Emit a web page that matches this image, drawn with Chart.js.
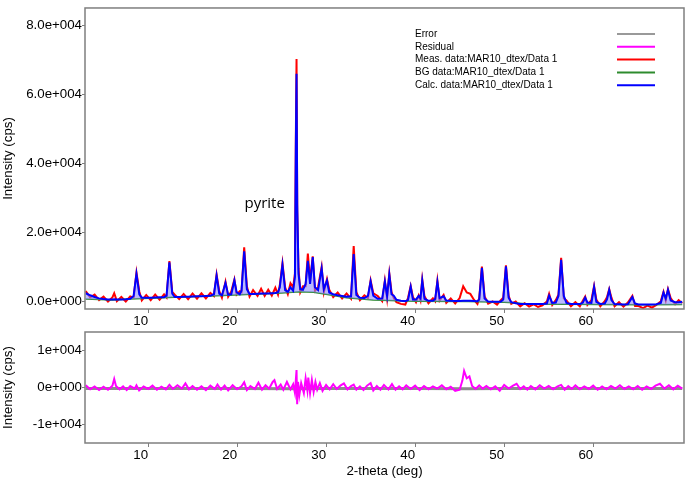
<!DOCTYPE html>
<html>
<head>
<meta charset="utf-8">
<script src="https://cdn.jsdelivr.net/npm/chart.js@4.4.1/dist/chart.umd.min.js"></script>
<style>
  body { margin: 0; background: #fff; }
  #topChart { position: absolute; left: 0; top: 0; }
  #bottomChart { position: absolute; left: 0; top: 320px; }
</style>
</head>
<body>
<canvas id="topChart" width="685" height="325"></canvas>
<canvas id="bottomChart" width="685" height="160"></canvas>
<script>
// 2-theta positions shared by measured and calculated patterns
const twoTheta = [
  3.0, 3.5, 4.0, 4.5, 5.0, 5.5, 6.0, 6.2, 6.5, 7.0, 7.5, 8.0, 8.38, 8.7, 9.02, 9.3, 9.8, 10.3, 10.8, 11.3,
  11.8, 12.08, 12.4, 12.72, 13.0, 13.5, 14.0, 14.5, 15.0, 15.5, 16.0, 16.5, 17.0, 17.4, 17.7, 18.0, 18.3, 18.7, 19.0, 19.35,
  19.7, 19.95, 20.3, 20.5, 20.8, 21.1, 21.4, 21.8, 22.3, 22.7, 23.1, 23.5, 23.9, 24.3, 24.6, 24.8, 25.1, 25.4, 25.7, 26.0,
  26.3, 26.5, 26.6, 26.68, 26.76, 26.9, 27.1, 27.4, 27.7, 27.95, 28.2, 28.5, 28.75, 29.1, 29.5, 29.75, 30.1, 30.35, 30.8, 31.3,
  31.8, 32.3, 32.8, 33.1, 33.4, 33.8, 34.3, 34.7, 35.0, 35.3, 35.8, 36.3, 36.6, 36.85, 37.1, 37.35, 37.6, 37.9, 38.4, 38.9,
  39.2, 39.5, 39.75, 40.1, 40.4, 40.6, 40.8, 41.05, 41.5, 42.0, 42.25, 42.5, 42.75, 43.2, 43.5, 44.0, 44.5, 45.0, 45.4, 45.8,
  46.2, 46.6, 47.0, 47.2, 47.5, 47.8, 48.2, 48.7, 49.2, 49.6, 49.9, 50.2, 50.5, 50.8, 51.3, 51.8, 52.3, 52.8, 53.3, 53.8,
  54.3, 54.8, 55.05, 55.4, 55.8, 56.1, 56.4, 56.7, 57.0, 57.5, 58.0, 58.5, 58.85, 59.1, 59.35, 59.8, 60.1, 60.35, 60.8, 61.3,
  61.55, 61.8, 62.05, 62.4, 62.9, 63.4, 63.9, 64.4, 64.7, 65.1, 65.6, 66.1, 66.6, 67.1, 67.6, 67.9, 68.15, 68.4, 68.7, 69.2,
  69.6, 70.0
];
const calculated = [
  2300, 1700, 1200, 800, 600, 500, 500, 550, 500, 500, 550, 700, 1500, 7900, 2000, 1000, 1000, 1000, 1050, 1100,
  1150, 1600, 11300, 2200, 1200, 1200, 1250, 1300, 1350, 1400, 1450, 1500, 1550, 2000, 7400, 2200, 1700, 5300, 1900, 2000,
  6000, 2600, 2000, 3000, 14500, 3500, 2100, 2100, 2150, 2200, 2200, 2250, 2300, 2350, 2600, 4000, 10500, 3200, 2700, 4000,
  3000, 7000, 44000, 66000, 28000, 8000, 3500, 3300, 5000, 11700, 5000, 12800, 4000, 3200, 9500, 3500, 6000, 2500, 2000, 1700,
  1500, 1300, 1400, 13700, 1800, 1000, 900, 1500, 5700, 1600, 700, 800, 5700, 1500, 7800, 2000, 1600, 400, 100, 0,
  300, 4200, 500, 500, 1500, 800, 6000, 700, 100, 100, 600, 5600, 900, 1400, 200, 100, 50, 50, 100, 100,
  100, 50, 0, 500, 9700, 800, -100, -150, -200, -200, 500, 10100, 1000, -300, -600, -800, -850, -850, -850, -850,
  -850, -700, 1600, -500, -400, 1500, 12000, 1500, -500, -800, -850, -850, -400, 1000, -400, -500, 4100, -200, -800, -700,
  500, 3300, 300, -850, -900, -950, -900, 1200, -700, -950, -950, -950, -950, -900, -500, 2500, 800, 3300, 200, -300,
  -300, -200
];
const measured = [
  2900, 1100, 1900, 300, 1300, -100, 1100, 2300, 0, 1200, -100, 1400, 1000, 8300, 2800, 200, 1800, 300, 1900, 400,
  2000, 1100, 11600, 2700, 1900, 600, 2100, 600, 2200, 700, 2300, 800, 2400, 1500, 7700, 2900, 1000, 5600, 1300, 2800,
  6300, 1900, 2900, 2600, 15600, 4300, 1300, 3200, 1500, 3600, 1500, 3300, 1600, 3900, 1900, 4600, 11000, 4000, 2000, 5200,
  4000, 8000, 47000, 70300, 26000, 9500, 2600, 4300, 4300, 13800, 5800, 13000, 3000, 4100, 9900, 2600, 6400, 3300, 1200, 2500,
  800, 2200, 700, 16000, 2600, 300, 1700, 900, 6000, 2300, 1500, 0, 5900, 800, 8000, 2600, 900, -300, -800, -1000,
  900, 4400, 1200, -300, 1700, 200, 6300, 1400, -600, 800, 0, 5900, 200, 1800, -500, 800, -700, 900, 4300, 2500,
  2100, 400, -800, 900, 10000, 1400, -700, -100, -1000, 200, 1000, 10400, 1600, -800, -100, -1500, -600, -1600, -900, -1700,
  -1200, -100, 2100, -1100, 300, 1900, 12600, 800, 200, -1500, -300, -1500, 200, 1300, -1100, 300, 4400, 500, -1500, 0,
  1100, 3500, 1000, -1500, -300, -1600, -400, 1500, -1400, -1400, -2000, -1300, -1900, -1100, 0, 2700, 200, 3500, 900, -900,
  300, -600
];

// background curve
const bgTheta = [3, 6, 8, 13, 17, 21, 25, 27, 28.6, 30.5, 32.3, 35.3, 40, 46, 50, 51, 52, 53, 61, 66, 70];
const background = [600, 300, 600, 1100, 1500, 1900, 2400, 2700, 2600, 1800, 1000, 300, 0, -100, -300, -500, -700, -850, -950, -1050, -950];

// residual (lower panel)
const resTheta = [
  3.0, 3.5, 4.0, 4.5, 5.0, 5.5, 6.0, 6.2, 6.4, 6.8, 7.2, 7.6, 8.0, 8.5, 8.7, 9.0, 9.5, 10.0, 10.5, 11.0,
  11.5, 12.0, 12.4, 12.8, 13.3, 13.8, 14.2, 14.6, 15.0, 15.5, 16.0, 16.5, 17.0, 17.5, 17.8, 18.2, 18.6, 19.0, 19.5, 20.0,
  20.5, 20.8, 21.1, 21.5, 22.0, 22.4, 22.8, 23.2, 23.6, 24.0, 24.2, 24.5, 24.9, 25.2, 25.6, 26.0, 26.3, 26.5, 26.6, 26.68,
  26.75, 26.85, 27.0, 27.2, 27.5, 27.7, 27.9, 28.0, 28.2, 28.4, 28.6, 28.8, 29.0, 29.3, 29.6, 30.0, 30.4, 30.8, 31.2, 31.6,
  32.0, 32.4, 32.8, 33.1, 33.4, 33.8, 34.2, 34.6, 35.0, 35.3, 35.7, 36.1, 36.5, 37.0, 37.4, 37.8, 38.2, 38.6, 39.0, 39.5,
  40.0, 40.5, 41.0, 41.5, 42.0, 42.5, 43.0, 43.5, 44.0, 44.5, 45.0, 45.3, 45.5, 45.8, 46.1, 46.4, 46.8, 47.2, 47.6, 48.0,
  48.5, 49.0, 49.5, 50.0, 50.5, 51.0, 51.4, 51.8, 52.2, 52.6, 53.0, 53.5, 54.0, 54.5, 55.0, 55.5, 56.0, 56.4, 56.8, 57.2,
  57.6, 58.0, 58.5, 59.0, 59.5, 60.0, 60.5, 61.0, 61.5, 62.0, 62.5, 63.0, 63.5, 64.0, 64.5, 65.0, 65.5, 66.0, 66.5, 67.0,
  67.5, 68.0, 68.5, 69.0, 69.5, 70.0
];
const residual = [
  600, -500, 300, -700, 200, -600, 500, 2300, 400, -500, 300, -700, 400, -300, 600, -800, 300, -400, 500, -600,
  200, -500, 700, -400, 600, -300, 1100, -500, 400, -600, 300, -700, 500, -400, 800, -600, 500, -800, 600, -500,
  300, 1400, -700, 400, -400, 1300, -600, 600, -300, 1500, 2000, -400, 800, -600, 1500, -500, 900, -1500, 2000, 4700,
  -4500, 1500, -2000, 1200, -1500, 2500, -800, 2700, -1500, 2000, -1200, 1500, -600, 1200, -900, 700, -500, 900, -400, 500,
  1100, -500, 400, 800, -600, 300, -700, 500, 1200, -800, 400, -600, 700, -500, 900, -600, 300, -500, 600, -400,
  500, -700, 400, -500, 300, -300, 600, -500, 200, -900, -600, 1800, 4500, 2500, 3000, 400, -400, 600, -300, 400,
  -500, 300, -900, 700, -300, 500, 1000, -400, 300, -600, 400, -500, 600, -300, 400, -500, 300, 700, -600, 400,
  -400, 600, -500, 300, -400, 500, -600, 300, -500, 400, -300, 600, -400, 300, -500, 400, -600, 300, -400, 500,
  1000, -300, 600, -500, 500, -300
];

// estimated error band
const errTheta = [3, 10, 20, 27, 30, 40, 46, 50, 60, 70];
const errorBand = [-250, -300, -250, -350, -300, -250, -350, -300, -250, -300];

const xTicks = [10, 20, 30, 40, 50, 60];
const topTickValues = [0, 20000, 40000, 60000, 80000];
const topTickLabels = ['0.0e+000', '2.0e+004', '4.0e+004', '6.0e+004', '8.0e+004'];
const bottomTickValues = [-10000, 0, 10000];
const bottomTickLabels = ['-1e+004', '0e+000', '1e+004'];

const legendNames = ['Error', 'Residual', 'Meas. data:MAR10_dtex/Data 1', 'BG data:MAR10_dtex/Data 1', 'Calc. data:MAR10_dtex/Data 1'];
const legendColors = ['#999999', '#ff00ff', '#ff0000', '#2e8b2e', '#0000ff'];

const toPoints = (xs, ys) => xs.map((x, i) => ({ x: x, y: ys[i] }));

const axisFont = { family: 'Liberation Sans', size: 13.3 };
Chart.defaults.color = '#000';
Chart.defaults.font.family = 'Liberation Sans';

const framePlugin = {
  id: 'frame',
  afterDatasetsDraw(chart) {
    const { ctx, chartArea: a } = chart;
    ctx.save();
    ctx.strokeStyle = '#7f7f7f';
    ctx.lineWidth = 1.5;
    ctx.strokeRect(a.left, a.top, a.right - a.left, a.bottom - a.top);
    ctx.restore();
  }
};

const legendPlugin = {
  id: 'customLegend',
  afterDraw(chart) {
    const ctx = chart.ctx;
    ctx.save();
    ctx.font = '10px "Liberation Sans"';
    ctx.textBaseline = 'middle';
    ctx.fillStyle = '#000';
    legendNames.forEach((name, i) => {
      const y = 34 + i * 12.8;
      ctx.fillText(name, 415, y);
      ctx.strokeStyle = legendColors[i];
      ctx.lineWidth = 2;
      ctx.beginPath();
      ctx.moveTo(617, y);
      ctx.lineTo(655, y);
      ctx.stroke();
    });
    ctx.restore();
  }
};

const labelPlugin = {
  id: 'pyriteLabel',
  afterDraw(chart) {
    const ctx = chart.ctx;
    const x = chart.scales.x.getPixelForValue(23.1);
    const y = chart.scales.y.getPixelForValue(28200);
    ctx.save();
    ctx.font = '15px "Open Sans"';
    ctx.fillStyle = '#000';
    ctx.textAlign = 'center';
    ctx.textBaseline = 'middle';
    ctx.fillText('pyrite', x, y);
    ctx.restore();
  }
};

function xAxis(height, title) {
  return {
    type: 'linear',
    min: 2.92,
    max: 70.2,
    afterBuildTicks: s => { s.ticks = xTicks.map(v => ({ value: v })); },
    afterFit: s => { s.height = height; },
    grid: { drawOnChartArea: false, tickLength: 4, color: '#7f7f7f' },
    border: { display: false },
    ticks: { align: 'end', padding: 0, font: axisFont, color: '#000', maxRotation: 0 },
    title: title ? { display: true, text: title, font: axisFont, color: '#000', padding: { top: 0, bottom: 1 } } : { display: false }
  };
}

function yAxis(min, max, values, labels) {
  return {
    min: min,
    max: max,
    afterBuildTicks: s => { s.ticks = values.map(v => ({ value: v })); },
    afterFit: s => { s.width = 85; },
    grid: { drawOnChartArea: false, tickLength: 3, color: '#7f7f7f' },
    border: { display: false },
    ticks: { padding: 0, font: axisFont, color: '#000', callback: v => labels[values.indexOf(v)] },
    title: { display: true, text: 'Intensity (cps)', font: axisFont, color: '#000', padding: { top: 0, bottom: 0 } }
  };
}

new Chart(document.getElementById('topChart'), {
  type: 'line',
  data: {
    datasets: [
      {
        label: legendNames[4],
        data: toPoints(twoTheta, calculated),
        borderColor: '#0000ff',
        borderWidth: 2,
        backgroundColor: 'rgba(140,140,255,0.6)',
        fill: 1,
        order: 0
      },
      {
        label: legendNames[3],
        data: toPoints(bgTheta, background),
        borderColor: '#2e8b2e',
        borderWidth: 1.5,
        fill: false,
        order: 1
      },
      {
        label: legendNames[2],
        data: toPoints(twoTheta, measured),
        borderColor: '#ff0000',
        borderWidth: 2,
        fill: false,
        order: 2
      }
    ]
  },
  options: {
    responsive: false,
    animation: false,
    devicePixelRatio: 1,
    elements: { point: { radius: 0 }, line: { tension: 0 } },
    layout: { padding: { top: 2, right: 1, left: 0, bottom: 0 } },
    plugins: { legend: { display: false }, tooltip: { enabled: false } },
    scales: {
      x: xAxis(16, null),
      y: yAxis(-2280, 85120, topTickValues, topTickLabels)
    }
  },
  plugins: [framePlugin, legendPlugin, labelPlugin]
});

new Chart(document.getElementById('bottomChart'), {
  type: 'line',
  data: {
    datasets: [
      {
        label: legendNames[1],
        data: toPoints(resTheta, residual),
        borderColor: '#ff00ff',
        borderWidth: 2,
        fill: false,
        order: 0
      },
      {
        label: legendNames[0],
        data: toPoints(errTheta, errorBand),
        borderColor: '#8c8c8c',
        borderWidth: 3,
        fill: false,
        order: 1
      }
    ]
  },
  options: {
    responsive: false,
    animation: false,
    devicePixelRatio: 1,
    elements: { point: { radius: 0 }, line: { tension: 0 } },
    layout: { padding: { top: 12, right: 1, left: 0, bottom: 0 } },
    plugins: { legend: { display: false }, tooltip: { enabled: false } },
    scales: {
      x: xAxis(37, '2-theta (deg)'),
      y: yAxis(-15000, 15000, bottomTickValues, bottomTickLabels)
    }
  },
  plugins: [framePlugin]
});
</script>
</body>
</html>
